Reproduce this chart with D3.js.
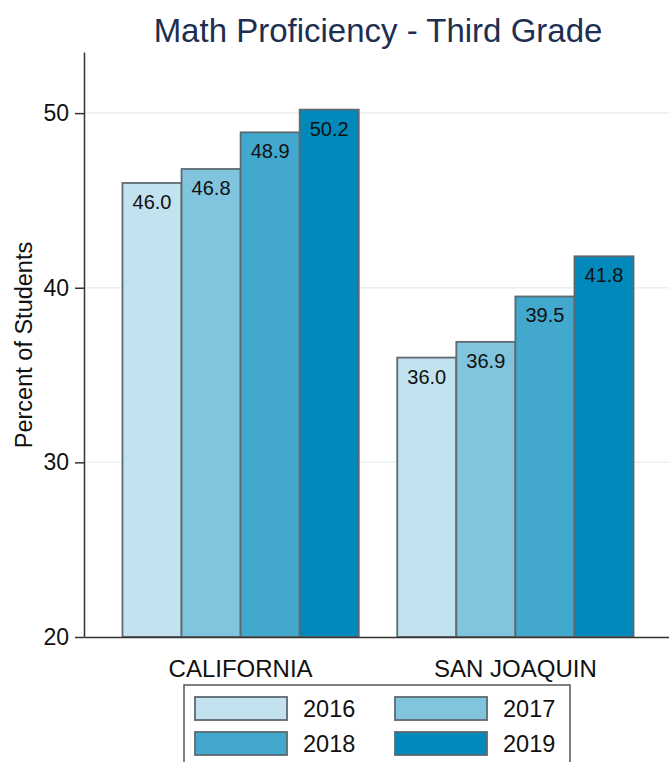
<!DOCTYPE html>
<html>
<head>
<meta charset="utf-8">
<script src="https://cdn.jsdelivr.net/npm/d3@7"></script>
<style>
  body { margin: 0; background: #fff; }
  text { font-family: "Liberation Sans", Arial, sans-serif; }
</style>
</head>
<body>
<div id="chart"></div>
<script>
(function () {

  /***** Data *****/
  var regions = ["CALIFORNIA", "SAN JOAQUIN"]
  var years = ["2016", "2017", "2018", "2019"]
  var california = [46.0, 46.8, 48.9, 50.2]
  var sanJoaquin = [36.0, 36.9, 39.5, 41.8]
  var yTicks = [20, 30, 40, 50]
  var colors = ["#c1e2ee", "#80c4de", "#42a8ce", "#0189bb"]

  var rows = [
    { region: regions[0], values: california },
    { region: regions[1], values: sanJoaquin }
  ]

  /***** Configuration *****/
  var W = 669, H = 762
  var plot = { left: 84, right: 672, top: 52, bottom: 637 }

  var svg = d3.select("#chart")
    .append("svg")
    .attr("width", W)
    .attr("height", H)

  var x = d3.scaleBand()
    .domain(regions)
    .range([plot.left, plot.right])
    .padding(0.14)

  var xSub = d3.scaleBand()
    .domain(years)
    .range([0, x.bandwidth()])

  var y = d3.scaleLinear()
    .domain([20, 53.5])
    .range([plot.bottom, plot.top])

  var color = d3.scaleOrdinal().domain(years).range(colors)

  // title
  svg.append("text")
    .attr("x", 378)
    .attr("y", 42)
    .attr("text-anchor", "middle")
    .attr("font-size", 33)
    .attr("fill", "#1e2f52")
    .text("Math Proficiency - Third Grade")

  // grid
  svg.append("g")
    .selectAll("line")
    .data(yTicks.slice(1))
    .join("line")
    .attr("x1", plot.left)
    .attr("x2", W)
    .attr("y1", d => y(d))
    .attr("y2", d => y(d))
    .attr("stroke", "#e8f0f2")
    .attr("stroke-width", 1.5)

  // bars
  var groups = svg.append("g")
    .selectAll("g")
    .data(rows)
    .join("g")
    .attr("transform", d => "translate(" + x(d.region) + ",0)")

  var cells = groups.selectAll("g")
    .data(d => d.values.map((v, i) => ({ year: years[i], value: v })))
    .join("g")

  cells.append("rect")
    .attr("x", d => xSub(d.year))
    .attr("width", xSub.bandwidth())
    .attr("y", d => y(d.value))
    .attr("height", d => y(20) - y(d.value))
    .attr("fill", d => color(d.year))
    .attr("stroke", "#5d6a70")
    .attr("stroke-width", 1.8)

  cells.append("text")
    .attr("x", d => xSub(d.year) + xSub.bandwidth() / 2)
    .attr("y", d => y(d.value) + 26)
    .attr("text-anchor", "middle")
    .attr("font-size", 20)
    .attr("fill", "#111")
    .text(d => d.value.toFixed(1))

  // y axis
  var yAxis = svg.append("g")
    .attr("transform", "translate(" + plot.left + ",0)")
    .call(d3.axisLeft(y).tickValues(yTicks).tickSize(9).tickPadding(6).tickSizeOuter(0))
  yAxis.select(".domain").attr("stroke", "#333").attr("stroke-width", 1.5)
  yAxis.selectAll(".tick line").attr("stroke", "#333").attr("stroke-width", 1.5)
  yAxis.selectAll(".tick text")
    .attr("font-size", 23)
    .attr("font-family", "Liberation Sans, Arial, sans-serif")
    .attr("fill", "#111")

  // x axis
  var xAxis = svg.append("g")
    .attr("transform", "translate(0," + plot.bottom + ")")
    .call(d3.axisBottom(x).tickSize(0).tickPadding(23).tickSizeOuter(0))
  xAxis.select(".domain").attr("stroke", "#333").attr("stroke-width", 1.5)
  xAxis.selectAll(".tick text")
    .attr("font-size", 24)
    .attr("font-family", "Liberation Sans, Arial, sans-serif")
    .attr("fill", "#111")

  // y label
  svg.append("text")
    .attr("transform", "translate(32,345) rotate(-90)")
    .attr("text-anchor", "middle")
    .attr("font-size", 23.5)
    .attr("fill", "#111")
    .text("Percent of Students")

  // legend
  var legend = svg.append("g")
  legend.append("rect")
    .attr("x", 184)
    .attr("y", 685)
    .attr("width", 386)
    .attr("height", 90)
    .attr("fill", "#fff")
    .attr("stroke", "#555")
    .attr("stroke-width", 1.5)

  var items = legend.selectAll("g.item")
    .data(years)
    .join("g")
    .attr("class", "item")
    .attr("transform", (d, i) => "translate(" + (195 + (i % 2) * 200) + "," + (697 + Math.floor(i / 2) * 35) + ")")

  items.append("rect")
    .attr("width", 92)
    .attr("height", 23)
    .attr("fill", d => color(d))
    .attr("stroke", "#5d6a70")
    .attr("stroke-width", 1.8)

  items.append("text")
    .attr("x", 108)
    .attr("y", 20)
    .attr("font-size", 23.5)
    .attr("fill", "#111")
    .text(d => d)

})()
</script>
</body>
</html>
